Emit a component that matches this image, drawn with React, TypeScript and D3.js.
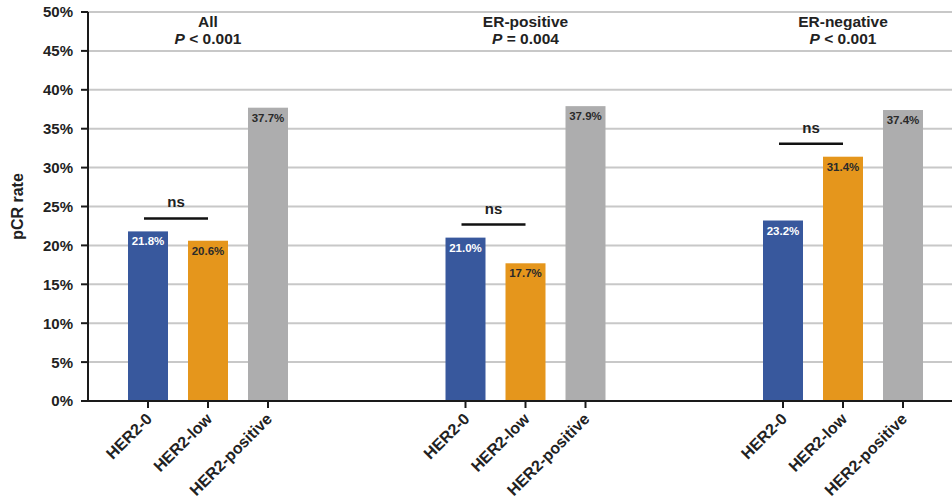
import React from "react";
import * as d3 from "d3";

const groups = ["All", "ER-positive", "ER-negative"];
const pLabels = [
  { op: "< 0.001" },
  { op: "= 0.004" },
  { op: "< 0.001" },
];
const subgroups = ["HER2-0", "HER2-low", "HER2-positive"];
const allValues = [21.8, 20.6, 37.7];
const erPosValues = [21.0, 17.7, 37.9];
const erNegValues = [23.2, 31.4, 37.4];
const seriesValues = [allValues, erPosValues, erNegValues];
const yTicks = [0, 5, 10, 15, 20, 25, 30, 35, 40, 45, 50];

const colors = ["#38589d", "#e5961c", "#adadae"];
const labelColors = ["#ffffff", "#2a2a2a", "#2a2a2a"];
const FONT = "'Liberation Sans', Arial, Helvetica, sans-serif";

export default function App() {
  const W = 952;
  const H = 503;
  const left = 88;
  const right = 952;
  const top = 12;
  const bottom = 401;

  const y = d3.scaleLinear().domain([0, 50]).range([bottom, top]);
  const gx = d3.scalePoint<string>().domain(groups).range([208, 843]);
  const sx = d3
    .scaleBand<string>()
    .domain(subgroups)
    .range([-90, 90])
    .paddingInner(1 / 3)
    .paddingOuter(1 / 6);
  const bw = sx.bandwidth();

  return (
    <svg
      width={W}
      height={H}
      style={{ position: "absolute", left: 0, top: 0, background: "#fff" }}
      fontFamily={FONT}
    >
      {/* gridlines */}
      {yTicks
        .filter((t) => t > 0)
        .map((t) => (
          <line
            key={"g" + t}
            x1={left}
            x2={right}
            y1={y(t)}
            y2={y(t)}
            stroke="#c8c8c8"
            strokeWidth={2}
          />
        ))}
      {/* y ticks and labels */}
      {yTicks.map((t) => (
        <g key={"t" + t}>
          <line x1={left - 7} x2={left} y1={y(t)} y2={y(t)} stroke="#1a1a1a" strokeWidth={2} />
          <text
            x={73}
            y={y(t)}
            dy="0.36em"
            textAnchor="end"
            fontSize={15}
            fontWeight="bold"
            fill="#222"
          >
            {t}%
          </text>
        </g>
      ))}
      <text
        transform={`translate(23, ${(top + bottom) / 2}) rotate(-90)`}
        textAnchor="middle"
        fontSize={16}
        fontWeight="bold"
        fill="#222"
      >
        pCR rate
      </text>

      {/* bars */}
      {groups.map((g, gi) => {
        const cx = gx(g) as number;
        const vals = seriesValues[gi];
        const pairMax = Math.max(vals[0], vals[1]);
        const lineY = y(pairMax) - 13;
        const c0 = cx + (sx(subgroups[0]) as number) + bw / 2;
        const c1 = cx + (sx(subgroups[1]) as number) + bw / 2;
        return (
          <g key={g}>
            <text x={cx} y={27} textAnchor="middle" fontSize={15.5} fontWeight="bold" fill="#222">
              {g}
            </text>
            <text x={cx} y={44} textAnchor="middle" fontSize={15.5} fontWeight="bold" fill="#222">
              <tspan fontStyle="italic">P</tspan>
              {" " + pLabels[gi].op}
            </text>
            {subgroups.map((s, si) => {
              const x0 = cx + (sx(s) as number);
              const v = vals[si];
              return (
                <g key={s}>
                  <rect x={x0} y={y(v)} width={bw} height={y(0) - y(v)} fill={colors[si]} />
                  <text
                    x={x0 + bw / 2}
                    y={y(v) + 14}
                    textAnchor="middle"
                    fontSize={11.5}
                    fontWeight="bold"
                    fill={labelColors[si]}
                  >
                    {v.toFixed(1)}%
                  </text>
                  <line
                    x1={x0 + bw / 2}
                    x2={x0 + bw / 2}
                    y1={bottom}
                    y2={bottom + 7}
                    stroke="#1a1a1a"
                    strokeWidth={2}
                  />
                  <text
                    transform={`translate(${x0 + bw / 2 + 5}, ${bottom + 19}) rotate(-45)`}
                    textAnchor="end"
                    fontSize={16}
                    fontWeight="bold"
                    fill="#222"
                  >
                    {s}
                  </text>
                </g>
              );
            })}
            <line x1={c0 - 4} x2={c1} y1={lineY} y2={lineY} stroke="#111" strokeWidth={2.5} />
            <text
              x={(c0 - 4 + c1) / 2}
              y={lineY - 11}
              textAnchor="middle"
              fontSize={15}
              fontWeight="bold"
              fill="#222"
            >
              ns
            </text>
          </g>
        );
      })}

      {/* axes */}
      <line x1={left} x2={left} y1={top} y2={bottom + 1} stroke="#1a1a1a" strokeWidth={2} />
      <line x1={left - 7} x2={right} y1={bottom} y2={bottom} stroke="#1a1a1a" strokeWidth={2} />
    </svg>
  );
}
